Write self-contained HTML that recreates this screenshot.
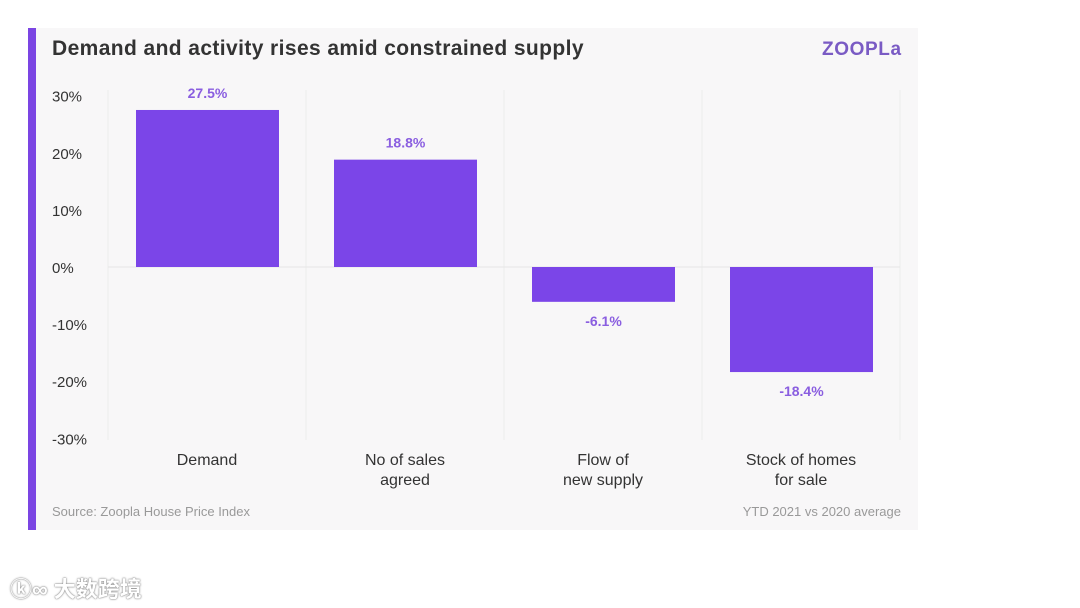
<!DOCTYPE html>
<html><head><meta charset="utf-8"><style>
body{margin:0;width:1080px;height:608px;background:#fff;position:relative;overflow:hidden;font-family:"Liberation Sans","Noto Sans CJK SC",sans-serif}
#card{position:absolute;left:28px;top:28px;width:890px;height:502px;background:#f8f7f8}
#accent{position:absolute;left:28px;top:28px;width:8px;height:502px;background:#7b45e3}
#title{position:absolute;left:52px;top:37px;font-size:21px;font-weight:bold;color:#333;letter-spacing:0.4px}
#logo{position:absolute;left:822px;top:39px;font-size:19px;font-weight:bold;color:#7a5bc4;letter-spacing:0.6px}
.foot{position:absolute;top:504px;font-size:13px;color:#999}
#wm{position:absolute;left:10px;top:572px;font-size:22px;color:#fff;font-weight:bold;text-shadow:0 0 2px #888,0 0 1px #666}
</style></head><body>
<div id="card"></div>
<div id="accent"></div>
<div id="title">Demand and activity rises amid constrained supply</div>
<div id="logo">ZOOPLa</div>
<svg id="chart" width="1080" height="608" style="position:absolute;left:0;top:0"></svg>
<div class="foot" style="left:52px">Source: Zoopla House Price Index</div>
<div class="foot" style="right:179px">YTD 2021 vs 2020 average</div>
<div id="wm">ⓚ∞ 大数跨境</div>
<script>
const categories=[["Demand"],["No of sales","agreed"],["Flow of","new supply"],["Stock of homes","for sale"]];
const values=[27.5,18.8,-6.1,-18.4];
const valueLabels=["27.5%","18.8%","-6.1%","-18.4%"];
const ticks=[30,20,10,0,-10,-20,-30];
const tickLabels=["30%","20%","10%","0%","-10%","-20%","-30%"];
const svg=document.getElementById('chart');const NS='http://www.w3.org/2000/svg';
const y=v=>267-v*5.71;
const left=108,band=198;
const x=i=>left+i*band;
function mk(t,a){const e=document.createElementNS(NS,t);for(const k in a)e.setAttribute(k,a[k]);svg.appendChild(e);return e;}
for(let i=0;i<=categories.length;i++){const l=mk('line',{x1:x(i),x2:x(i),y1:90,y2:440,stroke:'#ececec','stroke-width':1});

}
const z=mk('line',{x1:left,x2:x(4),y1:y(0),y2:y(0),stroke:'#e6e6e6','stroke-width':1});


ticks.forEach((t,i)=>{const e=mk('text',{x:52,y:y(t)+6,'font-size':15,fill:'#333','font-family':'Liberation Sans'});e.textContent=tickLabels[i];

});
values.forEach((v,i)=>{const bx=x(i)+28,bw=143;const top=Math.min(y(v),y(0)),h=Math.abs(y(v)-y(0));
const r=mk('rect',{x:bx,y:top,width:bw,height:h,fill:'#7b45e8'});


const ly=v>=0?y(v)-17:y(v)+19;
const t=mk('text',{x:bx+bw/2,y:ly+5,'text-anchor':'middle','font-size':14,'font-weight':'bold',fill:'#8a5ee0','font-family':'Liberation Sans'});t.textContent=valueLabels[i];


categories[i].forEach((line,j)=>{const c=mk('text',{x:x(i)+band/2,y:465+j*20,'text-anchor':'middle','font-size':16,fill:'#333','font-family':'Liberation Sans'});c.textContent=line;

});});
</script>
</body></html>
